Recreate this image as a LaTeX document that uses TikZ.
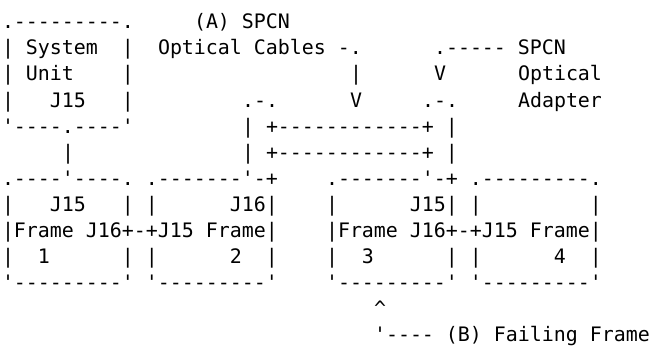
\documentclass[tikz,border=0pt]{standalone}
\usepackage{fontspec}
\setmonofont{DejaVu Sans Mono}
\tikzset{
  asciitxt/.style={anchor=base west, inner sep=0pt, outer sep=0pt,
    font=\ttfamily\fontsize{19.93}{26}\selectfont, text=black}
}
% \seg{name}{column}{row}{text}
\newcommand\seg[4]{\node[asciitxt] (#1) at ({(2+12*#2)*1pt},{(325-26*#3)*1pt}) {#4};}
\begin{document}
\begin{tikzpicture}
\useasboundingbox (0,0) rectangle (652pt,354pt);
\fill[white] (0,0) rectangle (652pt,354pt);
% row 0
\seg{sysTop}{0}{0}{.---------.}
\seg{labA}{16}{0}{(A)~SPCN}
% row 1
\seg{sysR1}{0}{1}{|~System~~|}
\seg{labA2}{13}{1}{Optical~Cables~-.}
\seg{labAd}{36}{1}{.-----~SPCN}
% row 2
\seg{sysR2}{0}{2}{|~Unit~~~~|}
\seg{cabA}{29}{2}{|}
\seg{adpV}{36}{2}{V}
\seg{labAd2}{43}{2}{Optical}
% row 3
\seg{sysR3}{0}{3}{|~~~J15~~~|}
\seg{cabL3}{20}{3}{.-.}
\seg{cabV}{29}{3}{V}
\seg{cabR3}{35}{3}{.-.}
\seg{labAd3}{43}{3}{Adapter}
% row 4
\seg{sysBot}{0}{4}{'----.----'}
\seg{cab4}{20}{4}{|~+------------+~|}
% row 5
\seg{link5}{5}{5}{|}
\seg{cab5}{20}{5}{|~+------------+~|}
% row 6
\seg{topL}{0}{6}{.----'----.~.-------'-+}
\seg{topR}{27}{6}{.-------'-+~.---------.}
% row 7
\seg{r7L}{0}{7}{|~~~J15~~~|~|~~~~~~J16|}
\seg{r7R}{27}{7}{|~~~~~~J15|~|~~~~~~~~~|}
% row 8
\seg{r8L}{0}{8}{|Frame~J16+-+J15~Frame|}
\seg{r8R}{27}{8}{|Frame~J16+-+J15~Frame|}
% row 9
\seg{r9L}{0}{9}{|~~1~~~~~~|~|~~~~~~2~~|}
\seg{r9R}{27}{9}{|~~3~~~~~~|~|~~~~~~4~~|}
% row 10
\seg{botL}{0}{10}{'---------'~'---------'}
\seg{botR}{27}{10}{'---------'~'---------'}
% row 11
\seg{caret}{31}{11}{\textasciicircum}
% row 12
\seg{labB}{31}{12}{'----~(B)~Failing~Frame}
\end{tikzpicture}
\end{document}
